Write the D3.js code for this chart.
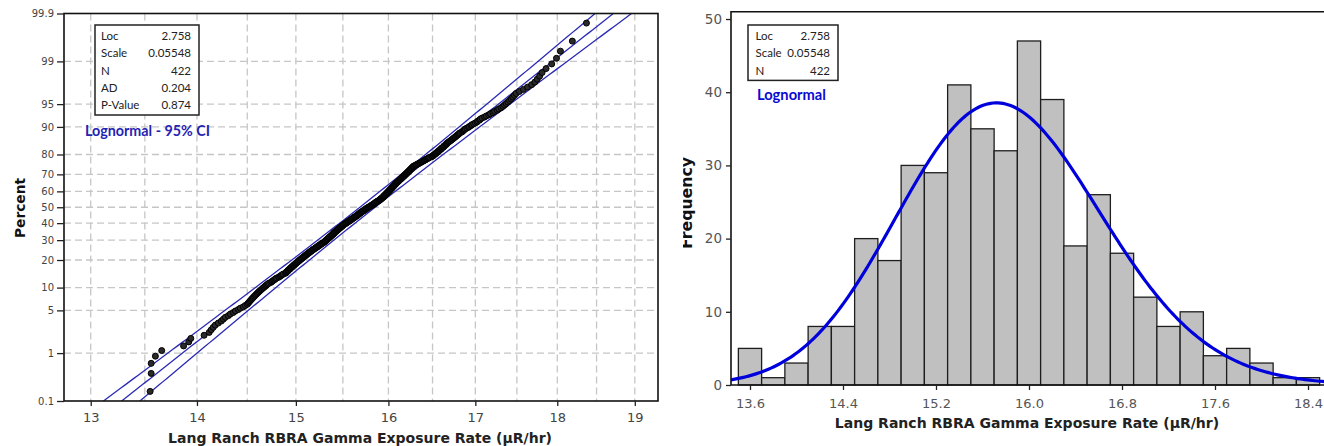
<!DOCTYPE html>
<html>
<head>
<meta charset="utf-8">
<script src="https://cdn.jsdelivr.net/npm/d3@7"></script>
<style>
  body { margin: 0; background: #fff; }
  svg { display: block; }
</style>
</head>
<body>
<svg id="chart" width="1324" height="446"></svg>
<script>
// Sorted gamma exposure readings (uR/hr), one line per 0.2 wide class
const exposureRate = [
  13.55, 13.56, 13.56, 13.60, 13.66,
  13.87,
  13.92, 13.94, 14.07,
  14.12, 14.14, 14.16, 14.18, 14.21, 14.24, 14.26, 14.28,
  14.31, 14.33, 14.36, 14.38, 14.41, 14.43, 14.46, 14.48,
  14.50, 14.51, 14.52, 14.53, 14.54, 14.55, 14.56, 14.57, 14.58, 14.59, 14.60, 14.61, 14.62, 14.63, 14.64, 14.65, 14.66, 14.67, 14.68, 14.69,
  14.70, 14.71, 14.72, 14.74, 14.75, 14.76, 14.77, 14.78, 14.79, 14.80, 14.82, 14.83, 14.84, 14.85, 14.86, 14.87, 14.89,
  14.90, 14.90, 14.91, 14.92, 14.92, 14.93, 14.94, 14.94, 14.95, 14.96, 14.96, 14.97, 14.98, 14.98, 14.99, 15.00, 15.00, 15.01, 15.02, 15.02, 15.03, 15.04, 15.04, 15.05, 15.06, 15.06, 15.07, 15.08, 15.08, 15.09,
  15.10, 15.10, 15.11, 15.12, 15.12, 15.13, 15.14, 15.14, 15.15, 15.16, 15.16, 15.17, 15.18, 15.18, 15.19, 15.20, 15.21, 15.21, 15.22, 15.23, 15.23, 15.24, 15.25, 15.25, 15.26, 15.27, 15.27, 15.28, 15.29,
  15.30, 15.30, 15.31, 15.31, 15.32, 15.32, 15.33, 15.33, 15.34, 15.34, 15.35, 15.35, 15.36, 15.36, 15.37, 15.37, 15.38, 15.38, 15.39, 15.39, 15.40, 15.40, 15.40, 15.41, 15.41, 15.42, 15.42, 15.43, 15.43, 15.44, 15.44, 15.45, 15.45, 15.46, 15.46, 15.47, 15.47, 15.48, 15.48, 15.49, 15.49,
  15.50, 15.50, 15.51, 15.51, 15.52, 15.53, 15.53, 15.54, 15.54, 15.55, 15.56, 15.56, 15.57, 15.57, 15.58, 15.59, 15.59, 15.60, 15.60, 15.61, 15.62, 15.62, 15.63, 15.63, 15.64, 15.65, 15.65, 15.66, 15.66, 15.67, 15.67, 15.68, 15.68, 15.69, 15.69,
  15.70, 15.70, 15.71, 15.72, 15.72, 15.73, 15.74, 15.74, 15.75, 15.75, 15.76, 15.76, 15.77, 15.78, 15.78, 15.79, 15.80, 15.80, 15.81, 15.82, 15.82, 15.83, 15.84, 15.84, 15.85, 15.85, 15.86, 15.86, 15.87, 15.88, 15.88, 15.89,
  15.90, 15.90, 15.91, 15.91, 15.92, 15.92, 15.93, 15.93, 15.94, 15.94, 15.95, 15.95, 15.95, 15.96, 15.96, 15.97, 15.97, 15.98, 15.98, 15.98, 15.99, 15.99, 16.00, 16.00, 16.00, 16.01, 16.01, 16.02, 16.02, 16.02, 16.03, 16.03, 16.04, 16.04, 16.04, 16.05, 16.05, 16.06, 16.06, 16.06, 16.07, 16.07, 16.08, 16.08, 16.08, 16.09, 16.09,
  16.10, 16.10, 16.11, 16.11, 16.12, 16.12, 16.13, 16.13, 16.14, 16.14, 16.15, 16.15, 16.16, 16.16, 16.17, 16.17, 16.18, 16.18, 16.19, 16.19, 16.20, 16.20, 16.21, 16.21, 16.22, 16.22, 16.23, 16.23, 16.24, 16.24, 16.25, 16.25, 16.26, 16.26, 16.27, 16.27, 16.28, 16.28, 16.29,
  16.30, 16.31, 16.32, 16.33, 16.34, 16.35, 16.36, 16.37, 16.38, 16.39, 16.40, 16.41, 16.42, 16.43, 16.44, 16.45, 16.46, 16.47, 16.49,
  16.50, 16.51, 16.51, 16.52, 16.53, 16.54, 16.54, 16.55, 16.56, 16.57, 16.57, 16.58, 16.59, 16.60, 16.60, 16.61, 16.62, 16.63, 16.63, 16.64, 16.65, 16.66, 16.66, 16.67, 16.68, 16.69,
  16.70, 16.71, 16.72, 16.73, 16.74, 16.75, 16.76, 16.77, 16.78, 16.79, 16.80, 16.81, 16.82, 16.84, 16.85, 16.86, 16.87, 16.88,
  16.90, 16.92, 16.93, 16.95, 16.96, 16.98, 17.00, 17.02, 17.03, 17.05, 17.06, 17.08,
  17.11, 17.13, 17.16, 17.18, 17.21, 17.23, 17.26, 17.28,
  17.31, 17.33, 17.35, 17.37, 17.39, 17.41, 17.43, 17.45, 17.47, 17.49,
  17.53, 17.58, 17.63, 17.68,
  17.72, 17.75, 17.78, 17.81, 17.86,
  17.93, 17.99, 18.04,
  18.19,
  18.37
];

// fitted lognormal parameters and summary table
const locParam = 2.758, scaleParam = 0.05548;
const statLabels = ["Loc", "Scale", "N", "AD", "P-Value"];
const statValues = ["2.758", "0.05548", "422", "0.204", "0.874"];

// axis ticks
const percentTicks = [0.1, 1, 5, 10, 20, 30, 40, 50, 60, 70, 80, 90, 95, 99, 99.9];
const rateTicks = [13, 14, 15, 16, 17, 18, 19];
const rateGrid = [13, 13.5, 14, 14.5, 15, 15.5, 16, 16.5, 17, 17.5, 18, 18.5, 19];
const histTicks = [13.6, 14.4, 15.2, 16.0, 16.8, 17.6, 18.4];
const freqTicks = [0, 10, 20, 30, 40, 50];
const binEdges = [13.5, 13.7, 13.9, 14.1, 14.3, 14.5, 14.7, 14.9, 15.1, 15.3, 15.5, 15.7, 15.9,
  16.1, 16.3, 16.5, 16.7, 16.9, 17.1, 17.3, 17.5, 17.7, 17.9, 18.1, 18.3, 18.5];

const xTitle = "Lang Ranch RBRA Gamma Exposure Rate (\u00b5R/hr)";
const svg = d3.select("#chart");

// inverse standard normal cdf (Acklam)
function probit(p) {
  const a = [-3.969683028665376e+01, 2.209460984245205e+02, -2.759285104469687e+02, 1.383577518672690e+02, -3.066479806614716e+01, 2.506628277459239e+00];
  const b = [-5.447609879822406e+01, 1.615858368580409e+02, -1.556989798598866e+02, 6.680131188771972e+01, -1.328068155288572e+01];
  const c = [-7.784894002430293e-03, -3.223964580411365e-01, -2.400758277161838e+00, -2.549732539343734e+00, 4.374664141464968e+00, 2.938163982699964e+00];
  const d = [7.784695709041462e-03, 3.224671290700398e-01, 2.445134137142996e+00, 3.754408661907416e+00];
  const lo = 0.02425;
  if (p < lo) {
    const q = Math.sqrt(-2 * Math.log(p));
    return (((((c[0]*q+c[1])*q+c[2])*q+c[3])*q+c[4])*q+c[5]) / ((((d[0]*q+d[1])*q+d[2])*q+d[3])*q+1);
  }
  if (p > 1 - lo) return -probit(1 - p);
  const q = p - 0.5, r = q * q;
  return (((((a[0]*r+a[1])*r+a[2])*r+a[3])*r+a[4])*r+a[5])*q / (((((b[0]*r+b[1])*r+b[2])*r+b[3])*r+b[4])*r+1);
}

function fitText(sel, width) {
  const w = sel.node().getComputedTextLength();
  sel.attr("font-size", parseFloat(sel.attr("font-size")) * width / w);
}

function statsBox(x, y, w, rows, labelX, valueX) {
  svg.append("rect")
    .attr("x", x).attr("y", y).attr("width", w).attr("height", rows * 17.3 + 3.5)
    .attr("fill", "#fff").attr("stroke", "#222").attr("stroke-width", 1.5);
  for (let i = 0; i < rows; i++) {
    const ty = y + 15 + i * 17.3;
    svg.append("text").attr("x", labelX).attr("y", ty)
      .attr("font-family", "Lato, 'Open Sans', sans-serif").attr("font-size", 11.5).attr("fill", "#222")
      .text(statLabels[i]);
    svg.append("text").attr("x", valueX).attr("y", ty).attr("text-anchor", "end")
      .attr("font-family", "Lato, 'Open Sans', sans-serif").attr("font-size", 11.5).attr("fill", "#222")
      .text(statValues[i]);
  }
}

createProbabilityPlot();
createHistogram();

// Probability plot with 95% confidence bands
function createProbabilityPlot() {
  const m = { left: 64, right: 658, top: 13.5, bottom: 401 };
  const n = exposureRate.length;
  const zMax = probit(0.999);

  const x = d3.scaleLog().domain([12.76, 19.31]).range([m.left, m.right]);
  const y = d3.scaleLinear().domain([-zMax, zMax]).range([m.bottom, m.top]);

  svg.append("clipPath").attr("id", "clipProb")
    .append("rect").attr("x", m.left).attr("y", m.top)
    .attr("width", m.right - m.left).attr("height", m.bottom - m.top);

  const grid = svg.append("g").attr("stroke", "#c6c6c6").attr("stroke-width", 1.3).attr("stroke-dasharray", "7,4");
  grid.selectAll("line.v").data(rateGrid).join("line").attr("class", "v")
    .attr("x1", d => x(d)).attr("x2", d => x(d)).attr("y1", m.top).attr("y2", m.bottom);
  grid.selectAll("line.h").data(percentTicks.slice(1, -1)).join("line").attr("class", "h")
    .attr("x1", m.left).attr("x2", m.right)
    .attr("y1", d => y(probit(d / 100))).attr("y2", d => y(probit(d / 100)));

  // fitted percentile line and confidence limits
  const zs = d3.range(0, 121).map(i => -zMax + i * 2 * zMax / 120);
  const se = z => scaleParam * Math.sqrt(1 / n + z * z / (2 * n));
  const band = [0, -1.96, 1.96];
  const line = d3.line().x(d => x(d[0])).y(d => y(d[1]));
  const plot = svg.append("g").attr("clip-path", "url(#clipProb)");
  band.forEach(k => {
    plot.append("path")
      .datum(zs.map(z => [Math.exp(locParam + z * scaleParam + k * se(z)), z]))
      .attr("fill", "none").attr("stroke", "#2a2ab6").attr("stroke-width", 1.3)
      .attr("d", line);
  });

  const sorted = exposureRate.slice().sort(d3.ascending);
  plot.selectAll("circle").data(sorted).join("circle")
    .attr("cx", d => x(d))
    .attr("cy", (d, i) => y(probit((i + 1 - 0.3) / (n + 0.4))))
    .attr("r", 3)
    .attr("fill", "#2a2a2a").attr("stroke", "#000").attr("stroke-width", 1);

  svg.append("rect")
    .attr("x", m.left).attr("y", m.top).attr("width", m.right - m.left).attr("height", m.bottom - m.top)
    .attr("fill", "none").attr("stroke", "#111").attr("stroke-width", 1.6);

  const xAxis = svg.append("g").attr("transform", `translate(0,${m.bottom})`)
    .call(d3.axisBottom(x).tickValues(rateTicks).tickFormat(d3.format("d")).tickSize(5).tickPadding(7));
  xAxis.select(".domain").remove();
  xAxis.selectAll("text").attr("font-family", "'DejaVu Sans', sans-serif").attr("font-size", 13).attr("fill", "#444");
  xAxis.selectAll("line").attr("stroke", "#222").attr("stroke-width", 1.3);

  const yAxis = svg.append("g").attr("transform", `translate(${m.left},0)`)
    .call(d3.axisLeft(y).tickValues(percentTicks.map(p => probit(p / 100)))
      .tickFormat((d, i) => percentTicks[i]).tickSize(7).tickPadding(3));
  yAxis.select(".domain").remove();
  yAxis.selectAll("text").attr("font-family", "'DejaVu Sans', sans-serif").attr("font-size", 10).attr("fill", "#444");
  yAxis.selectAll("line").attr("stroke", "#222").attr("stroke-width", 1.3);

  statsBox(95, 25, 104, 5, 101, 191);

  const label = svg.append("text").attr("x", 85).attr("y", 136)
    .attr("font-family", "Lato, 'Open Sans', sans-serif").attr("font-weight", "bold")
    .attr("font-size", 13).attr("fill", "#2323b4")
    .text("Lognormal - 95% CI");
  fitText(label, 125);

  const title = svg.append("text").attr("x", 360).attr("y", 443).attr("text-anchor", "middle")
    .attr("font-family", "'DejaVu Sans', sans-serif").attr("font-weight", "bold")
    .attr("font-size", 14).attr("fill", "#222").text(xTitle);
  fitText(title, 384);

  const yTitle = svg.append("text").attr("transform", "translate(25,208) rotate(-90)")
    .attr("text-anchor", "middle")
    .attr("font-family", "'DejaVu Sans', sans-serif").attr("font-weight", "bold")
    .attr("font-size", 14).attr("fill", "#111").text("Percent");
  fitText(yTitle, 60);
}

// Histogram with fitted lognormal curve
function createHistogram() {
  const m = { left: 731, right: 1330, top: 11.7, bottom: 385 };
  const n = exposureRate.length;
  const binWidth = 0.2;

  const x = d3.scaleLinear().domain([13.4366, 18.5892]).range([m.left, m.right]);
  const y = d3.scaleLinear().domain([0, 51]).range([m.bottom, m.top]);

  const bins = d3.bin()
    .domain([binEdges[0], binEdges[binEdges.length - 1]])
    .thresholds(binEdges.slice(1, -1))(exposureRate);

  svg.append("clipPath").attr("id", "clipHist")
    .append("rect").attr("x", m.left).attr("y", m.top)
    .attr("width", m.right - m.left).attr("height", m.bottom - m.top);

  svg.append("g").selectAll("rect").data(bins).join("rect")
    .attr("x", d => x(d.x0))
    .attr("y", d => y(d.length))
    .attr("width", d => x(d.x1) - x(d.x0))
    .attr("height", d => y(0) - y(d.length))
    .attr("fill", "#c0c0c0").attr("stroke", "#1e1e1e").attr("stroke-width", 1.3);

  // lognormal density scaled to counts
  const pdf = v => Math.exp(-Math.pow(Math.log(v) - locParam, 2) / (2 * scaleParam * scaleParam)) /
    (v * scaleParam * Math.sqrt(2 * Math.PI));
  const xs = d3.range(0, 241).map(i => x.domain()[0] + i * (x.domain()[1] - x.domain()[0]) / 240);
  svg.append("path")
    .attr("clip-path", "url(#clipHist)")
    .datum(xs)
    .attr("fill", "none").attr("stroke", "#0000dc").attr("stroke-width", 3.2)
    .attr("d", d3.line().x(d => x(d)).y(d => y(n * binWidth * pdf(d))));

  // frame: left, top and bottom
  svg.append("path")
    .attr("d", `M${m.right},${m.top}H${m.left}V${m.bottom}H${m.right}`)
    .attr("fill", "none").attr("stroke", "#111").attr("stroke-width", 1.6);

  const xAxis = svg.append("g").attr("transform", `translate(0,${m.bottom})`)
    .call(d3.axisBottom(x).tickValues(histTicks).tickFormat(d3.format(".1f")).tickSize(5).tickPadding(9));
  xAxis.select(".domain").remove();
  xAxis.selectAll("text").attr("font-family", "'DejaVu Sans', sans-serif").attr("font-size", 13).attr("fill", "#555");
  xAxis.selectAll("line").attr("stroke", "#222").attr("stroke-width", 1.3);

  const yAxis = svg.append("g").attr("transform", `translate(${m.left},0)`)
    .call(d3.axisLeft(y).tickValues(freqTicks).tickSize(5).tickPadding(4));
  yAxis.select(".domain").remove();
  yAxis.selectAll("text").attr("font-family", "'DejaVu Sans', sans-serif").attr("font-size", 13.5).attr("fill", "#555");
  yAxis.selectAll("line").attr("stroke", "#222").attr("stroke-width", 1.3);

  statsBox(748, 25, 90, 3, 755.5, 830);

  const label = svg.append("text").attr("x", 757).attr("y", 100)
    .attr("font-family", "Lato, 'Open Sans', sans-serif").attr("font-weight", "bold")
    .attr("font-size", 14).attr("fill", "#0a0ad2")
    .text("Lognormal");
  fitText(label, 69);

  const title = svg.append("text").attr("x", 1027).attr("y", 428).attr("text-anchor", "middle")
    .attr("font-family", "'DejaVu Sans', sans-serif").attr("font-weight", "bold")
    .attr("font-size", 14).attr("fill", "#222").text(xTitle);
  fitText(title, 385);

  // y title is cut off on its left side in the original
  svg.append("clipPath").attr("id", "clipFreq")
    .append("rect").attr("x", 683).attr("y", 0).attr("width", 40).attr("height", 446);
  const yTitle = svg.append("g").attr("clip-path", "url(#clipFreq)")
    .append("text")
    .attr("transform", "translate(691.5,203) rotate(-90)")
    .attr("text-anchor", "middle")
    .attr("font-family", "'DejaVu Sans', sans-serif").attr("font-weight", "bold")
    .attr("font-size", 14).attr("fill", "#111").text("Frequency");
  fitText(yTitle, 92);
}
</script>
</body>
</html>
